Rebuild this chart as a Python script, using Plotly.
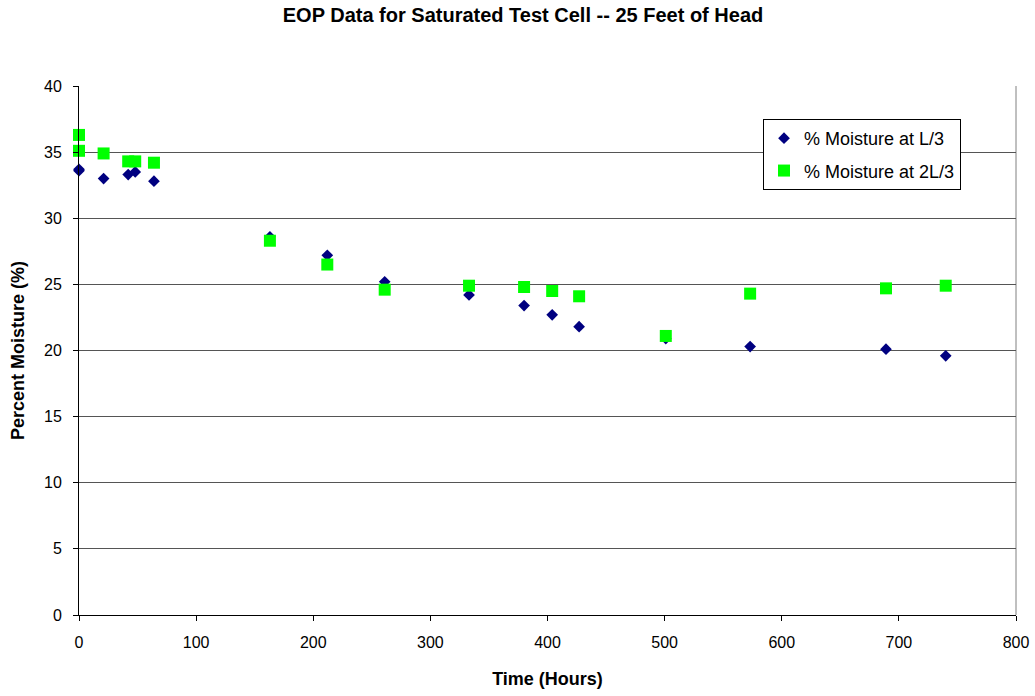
import plotly.graph_objects as go

# Elapsed time (hours) for each reading
hours = [0, 0, 21, 42, 48, 64, 163, 212, 261, 333, 380, 404, 427, 501, 573, 689, 740]

# Percent moisture at L/3
moisture_l3 = [33.6, 33.7, 33.0, 33.3, 33.5, 32.8, 28.6, 27.2, 25.2, 24.2, 23.4, 22.7,
               21.8, 20.9, 20.3, 20.1, 19.6]

# Percent moisture at 2L/3
moisture_2l3 = [36.3, 35.1, 34.9, 34.3, 34.3, 34.2, 28.3, 26.5, 24.6, 24.9, 24.8, 24.5,
                24.1, 21.1, 24.3, 24.7, 24.9]

x_ticks = [0, 100, 200, 300, 400, 500, 600, 700, 800]
y_ticks = [0, 5, 10, 15, 20, 25, 30, 35, 40]

FONT = "Liberation Sans, Arial, sans-serif"

fig = go.Figure()
fig.add_trace(go.Scatter(
    x=hours, y=moisture_l3, mode="markers", name="% Moisture at L/3",
    legendgroup="a", cliponaxis=False,
    marker=dict(symbol="diamond", size=9, color="#000080", line=dict(width=0)),
))
fig.add_trace(go.Scatter(
    x=hours, y=moisture_2l3, mode="markers", name="% Moisture at 2L/3",
    legendgroup="b", cliponaxis=False,
    marker=dict(symbol="square", size=12, color="#00FF00", line=dict(width=0)),
))

fig.update_layout(
    width=1035, height=696,
    margin=dict(l=79, r=19, t=86, b=81, autoexpand=False),
    paper_bgcolor="white", plot_bgcolor="white",
    font=dict(family=FONT, size=16, color="black"),
    title=dict(
        text="<b>EOP Data for Saturated Test Cell -- 25 Feet of Head</b>",
        font=dict(family=FONT, size=20, color="black"),
        x=(281 + 765) / 2 / 1035, xanchor="center",
        y=1 - 15 / 696, yanchor="middle", yref="container",
    ),
    legend=dict(
        x=0.730, y=0.9377, xanchor="left", yanchor="top",
        bgcolor="white", bordercolor="black", borderwidth=1,
        font=dict(family=FONT, size=18, color="black"),
        tracegroupgap=6, traceorder="grouped",
        itemwidth=30,
    ),
    showlegend=True,
    shapes=[
        dict(type="line", xref="paper", yref="paper", x0=1, x1=1, y0=0, y1=1,
             line=dict(color="#808080", width=1), layer="below"),
    ],
)

fig.update_xaxes(
    range=[0, 800], tickvals=x_ticks, ticktext=[str(v) for v in x_ticks],
    showgrid=False, zeroline=False,
    showline=True, linecolor="black", linewidth=1,
    ticks="outside", ticklen=5, tickcolor="black",
    ticklabelstandoff=8,
    tickfont=dict(family=FONT, size=16),
    title=dict(text="<b>Time (Hours)</b>", font=dict(family=FONT, size=18), standoff=22),
    automargin=False,
)
fig.update_yaxes(
    range=[0, 40], tickvals=y_ticks, ticktext=[str(v) for v in y_ticks],
    showgrid=True, gridcolor="#555555", gridwidth=1, zeroline=False,
    showline=True, linecolor="black", linewidth=1,
    ticks="outside", ticklen=5, tickcolor="black",
    ticklabelstandoff=8,
    tickfont=dict(family=FONT, size=16),
    title=dict(text="<b>Percent Moisture (%)</b>", font=dict(family=FONT, size=18), standoff=14),
    automargin=False,
)

fig.write_html("out.html")
